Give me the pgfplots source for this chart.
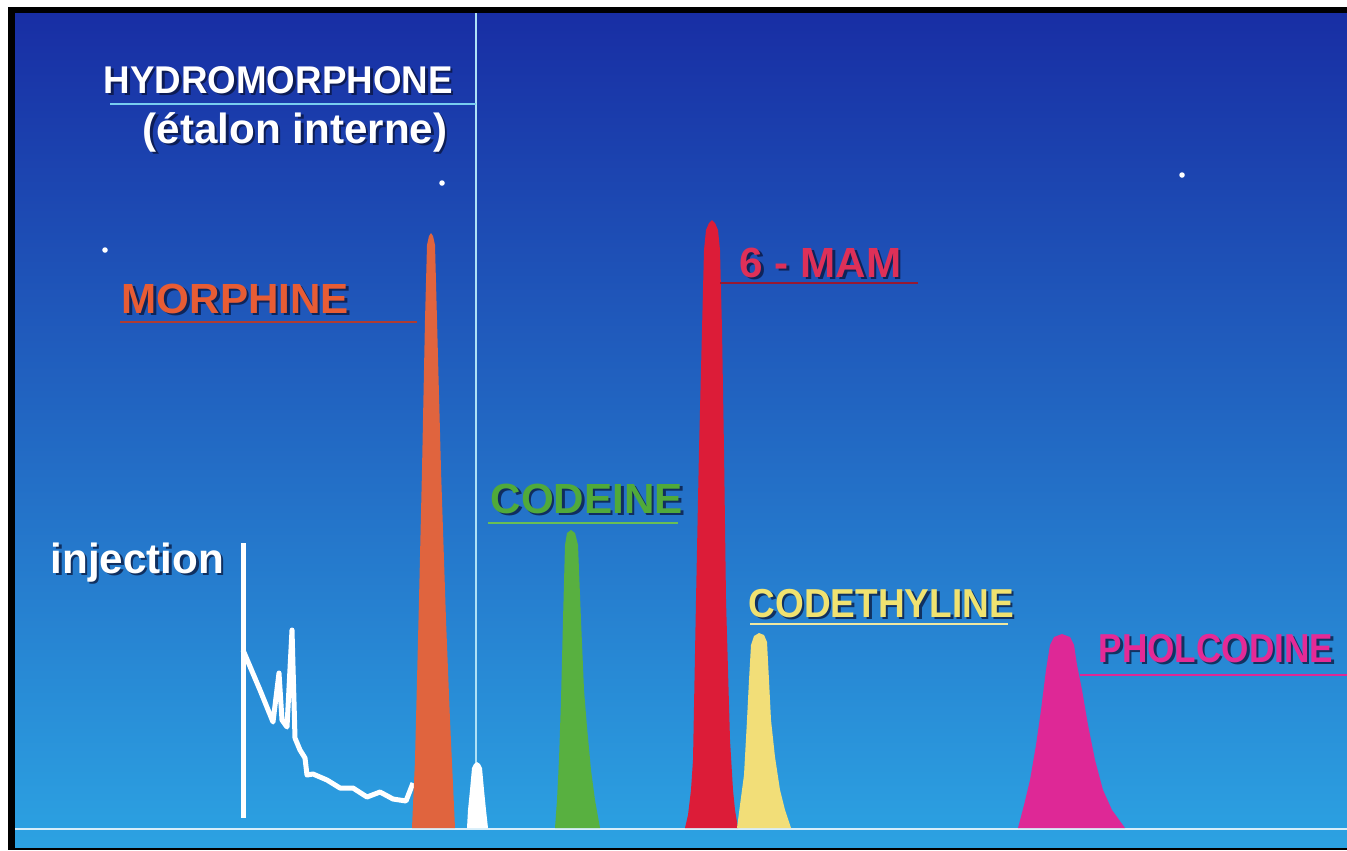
\documentclass[border=0pt]{standalone}
\usepackage{pgfplots}
\pgfplotsset{compat=1.18}
\usepackage{graphicx}
\usepackage{fontspec}
\setmainfont{Liberation Sans}
\definecolor{bgtop}{RGB}{24,46,164}
\definecolor{bgmid}{RGB}{28,80,188}
\definecolor{bgbot}{RGB}{44,162,226}
\definecolor{shadowc}{RGB}{8,16,50}
\definecolor{morph}{RGB}{224,100,62}
\definecolor{morphtxt}{RGB}{232,92,52}
\definecolor{morphline}{RGB}{175,60,50}
\definecolor{codeine}{RGB}{88,176,64}
\definecolor{codeinetxt}{RGB}{80,170,58}
\definecolor{codeineline}{RGB}{105,190,85}
\definecolor{mam}{RGB}{220,28,56}
\definecolor{mamtxt}{RGB}{222,48,88}
\definecolor{mamline}{RGB}{150,25,50}
\definecolor{codeth}{RGB}{242,222,120}
\definecolor{codethtxt}{RGB}{240,226,112}
\definecolor{codethline}{RGB}{240,232,160}
\definecolor{pholc}{RGB}{222,40,150}
\definecolor{pholctxt}{RGB}{228,42,150}
\definecolor{hydline}{RGB}{120,205,240}
\definecolor{baseln}{RGB}{215,238,250}
\newcommand{\lbl}[6]{%
  \node[anchor=base west,inner sep=0pt,text=shadowc,opacity=0.7,xshift=0.25mm,yshift=-0.25mm,font=\fontsize{#4}{#4}\selectfont\bfseries] at (axis cs:#1,#2) {\scalebox{#5}[1]{#6}};
  \node[anchor=base west,inner sep=0pt,text=#3,font=\fontsize{#4}{#4}\selectfont\bfseries] at (axis cs:#1,#2) {\scalebox{#5}[1]{#6}};}
\begin{document}
\begin{tikzpicture}
\begin{axis}[x=0.1mm,y=0.1mm,y dir=reverse,xmin=0,xmax=1347,ymin=0,ymax=850,hide axis,clip=true]
% frame and background
\addplot[draw=none,fill=white] coordinates {(0,0)(1347,0)(1347,850)(0,850)} -- cycle;
\addplot[draw=none,fill=black] coordinates {(8,7)(1347,7)(1347,850)(8,850)} -- cycle;
\addplot[draw=none,top color=bgtop,middle color=bgmid,bottom color=bgbot] coordinates {(15,13)(1347,13)(1347,847)(15,847)} -- cycle;
% small white specks
\addplot[only marks,mark=*,mark size=0.2mm,white] coordinates {(1182,175)(105,250)(442,183)};
% baseline
\addplot[baseln,line width=0.28mm] coordinates {(15,829)(1347,829)};
% hydromorphone vertical marker and underline
\addplot[hydline!60!white,line width=0.2mm] coordinates {(476,13)(476,764)};
\addplot[hydline,line width=0.25mm] coordinates {(110,104)(476,104)};
% injection
\addplot[white,line width=0.5mm] coordinates {(243,543)(243,818)};
\addplot[white,line width=0.5mm,line join=round] coordinates {(243,650)(260,690)(273,722)(279,673)(282,720)(287,727)(292,630)(295,738)(300,750)(305,758)(307,775)(313,774)(327,780)(340,788)(353,788)(367,797)(380,792)(393,799)(406,801)(413,783)};
% morphine peak
\addplot[draw=none,fill=morph] coordinates {(412,828)(415,760)(419,600)(422,470)(425,320)(427,245)(429,236)(431,233)(433,236)(435,245)(437,320)(441,470)(446,620)(450,720)(455,828)} -- cycle;
% hydromorphone peak
\addplot[draw=none,fill=white] coordinates {(467,828)(468,810)(470,790)(472,768)(474,764)(477,762)(480,764)(482,768)(484,790)(486,810)(488,828)} -- cycle;
% codeine peak
\addplot[draw=none,fill=codeine] coordinates {(555,828)(557,800)(559,760)(561,700)(563,620)(565,545)(567,533)(571,530)(575,533)(578,545)(581,620)(584,690)(587,727)(591,770)(595,800)(600,828)} -- cycle;
% 6-MAM peak
\addplot[draw=none,fill=mam] coordinates {(685,828)(688,815)(691,790)(693,760)(696,600)(699,450)(702,330)(704,250)(706,230)(709,223)(712,220)(715,223)(718,230)(720,250)(722,330)(724,450)(726,600)(730,740)(733,790)(735,810)(738,828)} -- cycle;
% codethyline peak
\addplot[draw=none,fill=codeth] coordinates {(737,828)(740,805)(744,775)(747,720)(749,680)(751,645)(754,636)(759,633)(764,635)(767,642)(769,680)(771,720)(775,757)(780,790)(785,810)(791,828)} -- cycle;
% pholcodine peak
\addplot[draw=none,fill=pholc] coordinates {(1018,828)(1024,805)(1030,780)(1036,745)(1041,710)(1046,670)(1050,645)(1054,637)(1062,634)(1070,637)(1074,645)(1077,665)(1082,690)(1088,725)(1095,760)(1103,790)(1112,810)(1125,828)} -- cycle;
% underlines
\addplot[morphline,line width=0.25mm] coordinates {(120,322)(417,322)};
\addplot[codeineline,line width=0.25mm] coordinates {(488,523)(678,523)};
\addplot[mamline,line width=0.25mm] coordinates {(720,283)(918,283)};
\addplot[codethline,line width=0.25mm] coordinates {(750,624)(1008,624)};
\addplot[pholc,line width=0.25mm] coordinates {(1080,675)(1347,675)};
% labels
\lbl{103}{93}{white}{11}{0.95}{HYDROMORPHONE}
\lbl{142}{143}{white}{12}{1}{(étalon interne)}
\lbl{121}{313}{morphtxt}{12}{1}{MORPHINE}
\lbl{50}{573}{white}{12}{1}{injection}
\lbl{490}{513}{codeinetxt}{12}{1}{CODEINE}
\lbl{739}{277}{mamtxt}{12}{1}{6 - MAM}
\lbl{748}{617}{codethtxt}{11.5}{0.915}{CODETHYLINE}
\lbl{1098}{662}{pholctxt}{11.5}{0.87}{PHOLCODINE}
\end{axis}
\end{tikzpicture}
\end{document}
